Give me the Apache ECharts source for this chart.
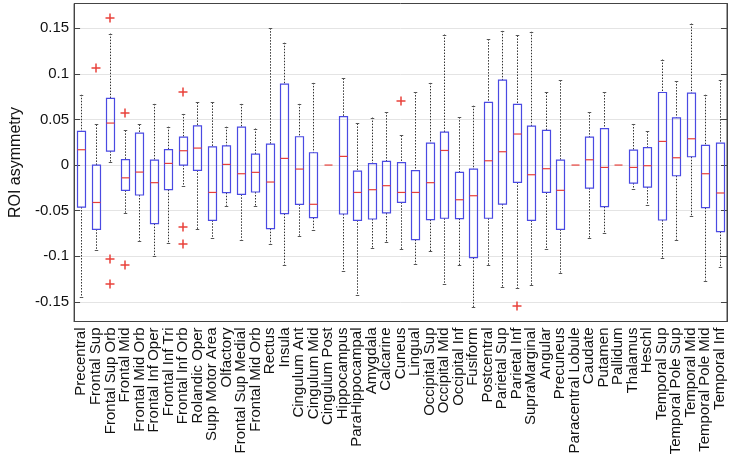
<!DOCTYPE html>
<html>
<head>
<meta charset="utf-8">
<script src="https://cdn.jsdelivr.net/npm/echarts@6/dist/echarts.min.js"></script>
<style>html,body{margin:0;padding:0;background:#fff}#c{width:734px;height:460px}</style>
</head>
<body>
<div id="c"></div>
<script>
const categories = ["Precentral","Frontal Sup","Frontal Sup Orb","Frontal Mid","Frontal Mid Orb","Frontal Inf Oper","Frontal Inf Tri","Frontal Inf Orb","Rolandic Oper","Supp Motor Area","Olfactory","Frontal Sup Medial","Frontal Mid Orb","Rectus","Insula","Cingulum Ant","Cingulum Mid","Cingulum Post","Hippocampus","ParaHippocampal","Amygdala","Calcarine","Cuneus","Lingual","Occipital Sup","Occipital Mid","Occipital Inf","Fusiform","Postcentral","Parietal Sup","Parietal Inf","SupraMarginal","Angular","Precuneus","Paracentral Lobule","Caudate","Putamen","Pallidum","Thalamus","Heschl","Temporal Sup","Temporal Pole Sup","Temporal Mid","Temporal Pole Mid","Temporal Inf"];

const whiskerHigh = [0.077,0.0445,0.144,0.038,0.0445,0.067,0.042,0.056,0.0686,0.0686,0.042,0.067,0.040,0.150,0.134,0.067,0.090,0,0.095,0.0456,0.052,0.058,0.0325,0.080,0.090,0.143,0.0525,0.065,0.138,0.147,0.142,0.146,0.0795,0.093,0,0.058,0.080,0,0.045,0.037,0.1156,0.092,0.155,0.077,0.093];
const q3 = [0.037,0.000,0.073,0.006,0.035,0.0055,0.017,0.0306,0.043,0.020,0.021,0.0416,0.012,0.023,0.0886,0.031,0.0135,0,0.053,-0.0066,0.0015,0.004,0.0026,-0.006,0.024,0.036,-0.008,-0.0044,0.0686,0.093,0.0664,0.0427,0.038,0.0055,0,0.0306,0.040,0,0.0164,0.019,0.0795,0.0518,0.0788,0.0215,0.024];
const median = [0.0168,-0.041,0.046,-0.014,-0.0077,-0.0193,0.0018,0.0157,0.0186,-0.030,0.0007,-0.0095,-0.008,-0.0186,0.0073,-0.0044,-0.043,0,0.0095,-0.030,-0.027,-0.0226,-0.030,-0.030,-0.0193,0.016,-0.038,-0.0336,0.0047,0.0146,0.034,-0.0106,-0.004,-0.0277,0,0.0058,-0.0026,0,-0.0026,-0.0007,0.0259,0.008,0.0288,-0.0095,-0.0306];
const q1 = [-0.046,-0.0704,0.0153,-0.0277,-0.0328,-0.0642,-0.027,0.000,-0.0058,-0.0605,-0.0303,-0.0321,-0.0295,-0.0697,-0.0532,-0.043,-0.0576,0,-0.0536,-0.0605,-0.0591,-0.0525,-0.0408,-0.0817,-0.0598,-0.0583,-0.0587,-0.1014,-0.0583,-0.0427,-0.019,-0.0605,-0.030,-0.0704,0,-0.0252,-0.0456,0,-0.0197,-0.0241,-0.0602,-0.0117,0.0091,-0.0467,-0.0729];
const whiskerLow = [-0.1448,-0.093,0.0036,-0.0522,-0.0828,-0.0996,-0.085,-0.0233,-0.0704,-0.0802,-0.0445,-0.0817,-0.0445,-0.0864,-0.1098,-0.0773,-0.0708,0,-0.1156,-0.1419,-0.0908,-0.0842,-0.0923,-0.1087,-0.0945,-0.1302,-0.1098,-0.1554,-0.1098,-0.1331,-0.1349,-0.1313,-0.0919,-0.1178,0,-0.0802,-0.0744,0,-0.0266,-0.0441,-0.1017,-0.0817,-0.0562,-0.1265,-0.112];

const outlierCats = ["Frontal Sup","Frontal Sup Orb","Frontal Sup Orb","Frontal Sup Orb","Frontal Mid","Frontal Mid","Frontal Inf Orb","Frontal Inf Orb","Frontal Inf Orb","Cuneus","Parietal Inf"];
const outlierVals = [0.106,0.161,-0.103,-0.130,0.057,-0.110,0.0795,-0.068,-0.086,0.070,-0.1546];

const yTickValues = [-0.15,-0.1,-0.05,0,0.05,0.1,0.15];
const yLabel = "ROI asymmetry";

const boxData = categories.map((c, i) => [i, whiskerLow[i], q1[i], median[i], q3[i], whiskerHigh[i]]);
const outData = outlierCats.map((c, k) => [categories.indexOf(c), outlierVals[k]]);

const BLUE = '#4a4ae2', RED = '#e8403a', BLACK = '#333';

function crisp(v){ return Math.round(v) + 0.5; }

function renderBox(params, api) {
  const i = api.value(0);
  const lo = api.coord([i, api.value(1)]);
  const b1 = api.coord([i, api.value(2)]);
  const md = api.coord([i, api.value(3)]);
  const b3 = api.coord([i, api.value(4)]);
  const hi = api.coord([i, api.value(5)]);
  const band = api.size([1, 0])[0];
  const bw = band * 0.55, cw = band * 0.24;
  const x = crisp(lo[0]);
  const children = [];
  const dash = {stroke: BLACK, lineWidth: 1, lineDash: [1.5, 1.5]};
  if (hi[1] < b3[1] - 0.5) {
    children.push({type:'line', shape:{x1:x, y1:hi[1], x2:x, y2:b3[1]}, style: dash});
    children.push({type:'line', shape:{x1:x-cw/2, y1:crisp(hi[1]), x2:x+cw/2, y2:crisp(hi[1])}, style:{stroke:'#555', lineWidth:1}});
  }
  if (lo[1] > b1[1] + 0.5) {
    children.push({type:'line', shape:{x1:x, y1:b1[1], x2:x, y2:lo[1]}, style: dash});
    children.push({type:'line', shape:{x1:x-cw/2, y1:crisp(lo[1]), x2:x+cw/2, y2:crisp(lo[1])}, style:{stroke:'#555', lineWidth:1}});
  }
  if (b1[1] - b3[1] > 0.5) {
    children.push({type:'rect', shape:{x:x-bw/2, y:b3[1], width:bw, height:b1[1]-b3[1]}, style:{fill:'none', stroke:BLUE, lineWidth:1.2}});
  }
  children.push({type:'line', shape:{x1:x-bw/2, y1:md[1], x2:x+bw/2, y2:md[1]}, style:{stroke:RED, lineWidth:1.2}});
  return {type:'group', children};
}

function renderOut(params, api) {
  const p = api.coord([api.value(0), api.value(1)]);
  const cx = Math.round(p[0]), cy = Math.round(p[1]);
  return {type:'group', children:[
    {type:'line', shape:{x1:cx-4.5, y1:cy, x2:cx+4.5, y2:cy}, style:{stroke:RED, lineWidth:1.5}},
    {type:'line', shape:{x1:cx, y1:cy-4.5, x2:cx, y2:cy+4.5}, style:{stroke:RED, lineWidth:1.5}}
  ]};
}

const chart = echarts.init(document.getElementById('c'), null, {renderer:'canvas'});
const yMin = -0.1714, yMax = 0.177;
chart.setOption({
  animation: false,
  textStyle: {fontFamily: 'Liberation Sans, Arial, sans-serif'},
  grid: {left: 67, right: 7, top: 3.5, bottom: 138.5, show: true, borderColor: '#444', borderWidth: 1, backgroundColor: 'transparent'},
  xAxis: {
    type: 'category', data: categories, boundaryGap: true,
    axisLine: {show: true, onZero: false, lineStyle: {color: '#444'}},
    axisTick: {show: false},
    axisLabel: {interval: 0, rotate: 90, fontSize: 15, color: '#111', margin: 6, fontFamily: 'Liberation Sans'},
    splitLine: {show: false}
  },
  yAxis: [{
    type: 'value', min: yMin, max: yMax, name: yLabel, nameLocation: 'middle', nameGap: 50,
    nameTextStyle: {fontSize: 16, color: '#111', fontFamily: 'Liberation Sans'},
    axisLine: {show: true, onZero: false, lineStyle: {color: '#444'}},
    axisTick: {show: true, inside: true, length: 6, customValues: yTickValues, lineStyle: {color: '#444'}},
    axisLabel: {customValues: yTickValues, fontSize: 15, color: '#111', margin: 5, fontFamily: 'Liberation Sans', formatter: v => String(v)},
    splitLine: {show: true, lineStyle: {color: '#e4e4e4', width: 1}}
  }, {
    type: 'value', min: yMin, max: yMax, position: 'right',
    axisLine: {show: true, onZero: false, lineStyle: {color: '#444'}},
    axisTick: {show: true, inside: true, length: 6, customValues: yTickValues, lineStyle: {color: '#444'}},
    axisLabel: {show: false, customValues: yTickValues},
    splitLine: {show: false}
  }],
  series: [{
    type: 'custom', renderItem: renderBox, data: boxData,
    encode: {x: 0, y: [1, 2, 3, 4, 5]}, z: 3
  }, {
    type: 'custom', renderItem: renderOut, data: outData,
    encode: {x: 0, y: 1}, z: 4
  }]
});
</script>
</body>
</html>
